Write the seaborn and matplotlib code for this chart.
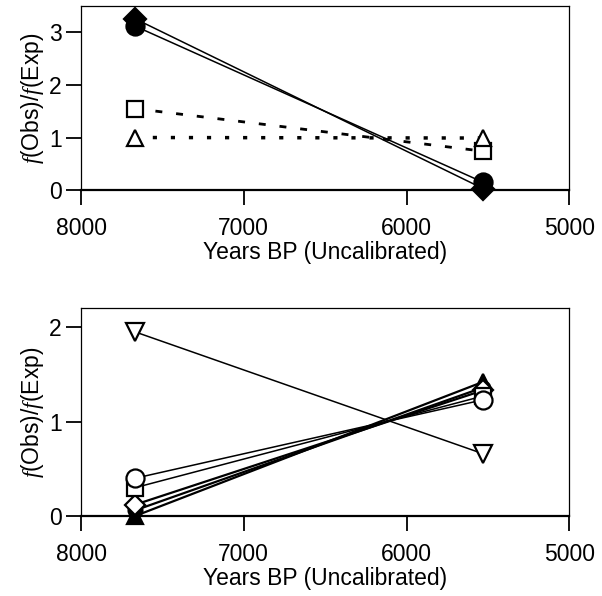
import matplotlib
matplotlib.use("Agg")
import matplotlib.pyplot as plt
import seaborn as sns
import pandas as pd

sns.set_style("ticks")
plt.rcParams['font.family'] = ['Liberation Sans', 'DejaVu Sans']
plt.rcParams['mathtext.fontset'] = 'custom'
plt.rcParams['mathtext.it'] = 'Liberation Serif:italic'

years = [7670, 5530]

# Top panel series
top_circle_filled = [3.12, 0.15]
top_diamond_filled = [3.26, 0.03]
top_square_open = [1.55, 0.74]
top_triangle_open = [1.00, 0.99]

# Bottom panel series
bot_tri_down_open = [1.95, 0.66]
bot_circle_open = [0.40, 1.23]
bot_square_open = [0.30, 1.27]
bot_diamond_open = [0.12, 1.33]
bot_circle_filled = [0.06, 1.36]
bot_triangle_filled = [0.00, 1.42]

xticks = [8000, 7000, 6000, 5000]
top_yticks = [0, 1, 2, 3]
bot_yticks = [0, 1, 2]

fig = plt.figure(figsize=(6.02, 5.96), dpi=100)
ax1 = fig.add_axes([0.1346, 0.681, 0.811, 0.309])
ax2 = fig.add_axes([0.1346, 0.134, 0.811, 0.349])


def draw(ax, ys, marker, filled, ls, lw=1.1, ms=12):
    df = pd.DataFrame({"x": years, "y": ys})
    sns.lineplot(data=df, x="x", y="y", ax=ax, sort=False, color="black",
                 linestyle=ls, linewidth=lw, marker=marker, markersize=ms,
                 markerfacecolor="black" if filled else "white",
                 markeredgecolor="black", markeredgewidth=1.6,
                 clip_on=False, zorder=3)


draw(ax1, top_square_open, "s", False, (0, (2.5, 5)), lw=2)
draw(ax1, top_triangle_open, "^", False, (0, (1.2, 4)), lw=2.5)
draw(ax1, top_diamond_filled, "D", True, "-", ms=11)
draw(ax1, top_circle_filled, "o", True, "-", ms=13)

draw(ax2, bot_tri_down_open, "v", False, "-", ms=13)
draw(ax2, bot_triangle_filled, "^", True, "-", lw=1.6)
draw(ax2, bot_circle_filled, "o", True, "-", lw=1.6, ms=10)
draw(ax2, bot_diamond_open, "D", False, "-", lw=1.6, ms=10)
draw(ax2, bot_square_open, "s", False, "-", ms=12)
draw(ax2, bot_circle_open, "o", False, "-", ms=13)

for ax, yt, ylim in ((ax1, top_yticks, 3.5), (ax2, bot_yticks, 2.2)):
    ax.set_xlim(8000, 5000)
    ax.set_ylim(0, ylim)
    ax.set_xticks(xticks)
    ax.set_yticks(yt)
    ax.tick_params(axis="both", direction="out", length=11, width=1.3,
                   labelsize=16.5, colors="black", labelcolor="black")
    ax.tick_params(axis="x", pad=8)
    ax.tick_params(axis="y", pad=3)
    ax.set_xlabel("Years BP (Uncalibrated)", fontsize=16.5, labelpad=1,
                  color="black")
    ax.set_ylabel("$\\mathit{f}$(Obs)/$\\mathit{f}$(Exp)", fontsize=16.5,
                  labelpad=2, color="black")
    for side in ("left", "top", "right"):
        ax.spines[side].set_linewidth(0.9)
        ax.spines[side].set_color("black")
    ax.spines["bottom"].set_linewidth(1.6)
    ax.spines["bottom"].set_color("black")

fig.savefig("out.png", dpi=100)
